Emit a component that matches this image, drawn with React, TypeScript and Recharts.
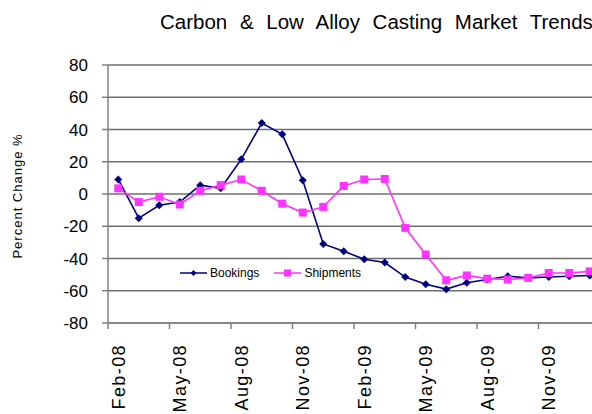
import React from "react";
import { LineChart, Line, XAxis, YAxis, CartesianGrid } from "recharts";

const NAVY = "#000080";
const PINK = "#ff33ff";
const AXIS_GRAY = "#808080";
const GRID_GRAY = "#6e6e6e";
const FONT = '"Liberation Sans", Arial, sans-serif';

const months = [
  "Feb-08", "Mar-08", "Apr-08", "May-08", "Jun-08", "Jul-08",
  "Aug-08", "Sep-08", "Oct-08", "Nov-08", "Dec-08", "Jan-09",
  "Feb-09", "Mar-09", "Apr-09", "May-09", "Jun-09", "Jul-09",
  "Aug-09", "Sep-09", "Oct-09", "Nov-09", "Dec-09", "Jan-10",
];

const bookings = [
  9, -15, -7, -5, 5.5, 3.5, 21.5, 44, 37, 8.5, -31, -35.5,
  -40.5, -42.5, -51.5, -56, -59, -55, -53, -51, -52, -51.5, -51, -50.5,
];

const shipments = [
  3.5, -5, -1.7, -6.5, 2, 5.5, 9, 2, -6, -11.5, -8, 5,
  9, 9.3, -21, -37.5, -53.5, -50.5, -52.5, -53, -52, -49, -49, -48,
];

const yTicks = [-80, -60, -40, -20, 0, 20, 40, 60, 80];

// every third month gets a labelled tick; tick marks sit on category edges
const xTicks = [-0.5, 2.5, 5.5, 8.5, 11.5, 14.5, 17.5, 20.5, 23.5];

const CHART_W = 612;
const CHART_H = 414;
const MARGIN = { top: 65, right: 12, left: 0, bottom: 0 };
const Y_AXIS_W = 108;
const X_AXIS_H = 91;
const PLOT_W = CHART_W - MARGIN.left - MARGIN.right - Y_AXIS_W;
const CAT_W = PLOT_W / months.length;

const rows = months.map((m, i) => ({
  idx: i,
  month: m,
  bookings: bookings[i],
  shipments: shipments[i],
}));

function MonthTick(props: any) {
  const { x, y, payload } = props;
  const label = months[payload.value + 0.5];
  if (!label) return null;
  return (
    <g transform={`translate(${x + CAT_W / 2},${y + 13})`}>
      <text
        transform="rotate(-90)"
        textAnchor="end"
        dy="0.36em"
        fontSize={18}
        letterSpacing={1.4}
        fontFamily={FONT}
        fill="#000"
      >
        {label}
      </text>
    </g>
  );
}

function Diamond(props: any) {
  const { cx, cy } = props;
  if (cx == null || cy == null) return null;
  const r = 4;
  return (
    <path
      d={`M${cx},${cy - r} L${cx + r},${cy} L${cx},${cy + r} L${cx - r},${cy} Z`}
      fill={NAVY}
    />
  );
}

function Square(props: any) {
  const { cx, cy } = props;
  if (cx == null || cy == null) return null;
  return <rect x={cx - 4} y={cy - 4} width={8} height={8} fill={PINK} />;
}

function LegendItem({ color, label, marker }: { color: string; label: string; marker: "diamond" | "square" }) {
  return (
    <span style={{ display: "inline-flex", alignItems: "center", marginRight: 15 }}>
      <svg width={27} height={10} style={{ marginRight: 3 }}>
        <line x1={0} y1={5} x2={27} y2={5} stroke={color} strokeWidth={1.5} />
        {marker === "diamond" ? (
          <path d="M13.5,2 L16.5,5 L13.5,8 L10.5,5 Z" fill={color} />
        ) : (
          <rect x={10} y={1.5} width={7} height={7} fill={color} />
        )}
      </svg>
      <span>{label}</span>
    </span>
  );
}

export default function App() {
  return (
    <div
      style={{
        position: "fixed",
        left: 0,
        top: 0,
        width: 592,
        height: 414,
        overflow: "hidden",
        background: "#fff",
        fontFamily: FONT,
      }}
    >
      <LineChart width={CHART_W} height={CHART_H} data={rows} margin={MARGIN}>
        <CartesianGrid vertical={false} stroke={GRID_GRAY} strokeWidth={1.5} />
        <XAxis
          dataKey="idx"
          type="number"
          domain={[-0.5, months.length - 0.5]}
          ticks={xTicks}
          interval={0}
          height={X_AXIS_H}
          tickSize={6}
          axisLine={{ stroke: AXIS_GRAY, strokeWidth: 1.5 }}
          tickLine={{ stroke: AXIS_GRAY, strokeWidth: 1.5 }}
          tick={<MonthTick />}
        />
        <YAxis
          type="number"
          domain={[-80, 80]}
          ticks={yTicks}
          interval={0}
          width={Y_AXIS_W}
          tickSize={6}
          tickMargin={14}
          axisLine={{ stroke: AXIS_GRAY, strokeWidth: 1.5 }}
          tickLine={{ stroke: AXIS_GRAY, strokeWidth: 1.5 }}
          tick={{ fontSize: 17, fill: "#000", fontFamily: FONT }}
        />
        <Line
          dataKey="bookings"
          type="linear"
          stroke={NAVY}
          strokeWidth={1.6}
          dot={<Diamond />}
          activeDot={false}
          isAnimationActive={false}
        />
        <Line
          dataKey="shipments"
          type="linear"
          stroke={PINK}
          strokeWidth={1.6}
          dot={<Square />}
          activeDot={false}
          isAnimationActive={false}
        />
      </LineChart>

      <svg
        width={592}
        height={414}
        style={{ position: "absolute", left: 0, top: 0, pointerEvents: "none" }}
      >
        <text x={160} y={29} fontSize={20.5} wordSpacing={7} fontFamily={FONT} fill="#000">
          Carbon &amp; Low Alloy Casting Market Trends
        </text>
        <text
          transform="translate(17.5,196) rotate(-90)"
          textAnchor="middle"
          dy="0.36em"
          fontSize={13}
          letterSpacing={1}
          fontFamily={FONT}
          fill="#000"
        >
          Percent Change %
        </text>
      </svg>

      <div
        style={{
          position: "absolute",
          left: 180,
          top: 266,
          fontSize: 12,
          color: "#000",
          display: "flex",
          alignItems: "center",
          whiteSpace: "nowrap",
        }}
      >
        <LegendItem color={NAVY} label="Bookings" marker="diamond" />
        <LegendItem color={PINK} label="Shipments" marker="square" />
      </div>
    </div>
  );
}
